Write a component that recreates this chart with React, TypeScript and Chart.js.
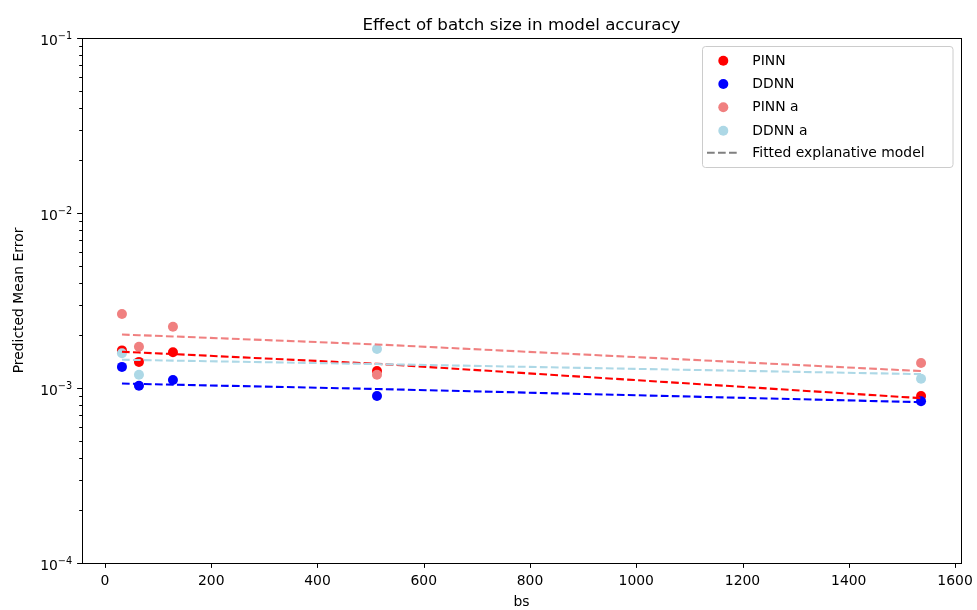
import React, { useEffect, useRef } from "react";
import { Chart, registerables } from "chart.js";

Chart.register(...registerables);

// ---- data ----
const batchSizes = [32, 64, 128, 512, 1536];
const pinnError = [1.64e-3, 1.41e-3, 1.6e-3, 1.25e-3, 0.9e-3];
const ddnnError = [1.32e-3, 1.03e-3, 1.11e-3, 0.9e-3, 0.84e-3];
const pinnAError = [2.65e-3, 1.72e-3, 2.24e-3, 1.19e-3, 1.39e-3];
const ddnnAError: (number | null)[] = [1.58e-3, 1.19e-3, null, 1.67e-3, 1.13e-3];

const pinnFit = [1.61e-3, 1.594e-3, 1.563e-3, 1.375e-3, 0.875e-3];
const ddnnFit = [1.06e-3, 1.055e-3, 1.045e-3, 0.987e-3, 0.83e-3];
const pinnAFit = [2.02e-3, 2.004e-3, 1.971e-3, 1.774e-3, 1.25e-3];
const ddnnAFit = [1.45e-3, 1.445e-3, 1.434e-3, 1.37e-3, 1.2e-3];

const xTickValues = [0, 200, 400, 600, 800, 1000, 1200, 1400, 1600];
const yExponents = [-4, -3, -2, -1];
const xMin = -43.2;
const xMax = 1611.2;

const seriesNames = ["PINN", "DDNN", "PINN a", "DDNN a"];
const fitLabel = "Fitted explanative model";
const titleText = "Effect of batch size in model accuracy";
const xLabel = "bs";
const yLabel = "Predicted Mean Error";

const COLORS = ["#ff0000", "#0000ff", "#f08080", "#add8e6"];
const FONT = "'DejaVu Sans', sans-serif";
const FS = 13.9;
const PR = 5;

const yTickValues: number[] = [];
for (let i = 0; i < yExponents.length - 1; i++) {
  for (let m = 1; m <= 9; m++) yTickValues.push(m * Math.pow(10, yExponents[i]));
}
yTickValues.push(Math.pow(10, yExponents[yExponents.length - 1]));

const isPow10 = (v: number) => {
  const l = Math.log10(v);
  return Math.abs(l - Math.round(l)) < 1e-6;
};

const toPoints = (arr: (number | null)[]) =>
  batchSizes
    .map((x, i) => ({ x, y: arr[i] }))
    .filter((p) => p.y !== null) as { x: number; y: number }[];

const decorPlugin = {
  id: "decor",
  afterDraw(chart: any) {
    const ctx = chart.ctx as CanvasRenderingContext2D;
    const { left, right, top, bottom } = chart.chartArea;
    const xs = chart.scales.x;
    const ys = chart.scales.y;
    ctx.save();
    // frame
    ctx.strokeStyle = "#000";
    ctx.lineWidth = 1;
    ctx.strokeRect(Math.round(left) + 0.5, Math.round(top) + 0.5, Math.round(right - left), Math.round(bottom - top));

    // x ticks
    ctx.beginPath();
    for (const t of xs.ticks) {
      const px = Math.round(xs.getPixelForValue(t.value)) + 0.5;
      ctx.moveTo(px, bottom);
      ctx.lineTo(px, bottom + 4.9);
    }
    // y ticks
    for (const t of ys.ticks) {
      const py = Math.round(ys.getPixelForValue(t.value)) + 0.5;
      const len = isPow10(t.value) ? 4.9 : 2.8;
      ctx.moveTo(left, py);
      ctx.lineTo(left - len, py);
    }
    ctx.stroke();

    // y labels 10^k
    ctx.fillStyle = "#000";
    ctx.textBaseline = "alphabetic";
    for (const e of yExponents) {
      const py = ys.getPixelForValue(Math.pow(10, e));
      const base = "10";
      const sup = "\u2212" + Math.abs(e);
      ctx.font = `${FS}px ${FONT}`;
      const wb = ctx.measureText(base).width;
      ctx.font = `${FS * 0.7}px ${FONT}`;
      const ws = ctx.measureText(sup).width;
      const xr = left - 4.9 - 4.9;
      const x0 = xr - ws - wb;
      ctx.font = `${FS}px ${FONT}`;
      ctx.textAlign = "left";
      ctx.fillText(base, x0, py + 6.5);
      ctx.font = `${FS * 0.7}px ${FONT}`;
      ctx.fillText(sup, x0 + wb, py + 0.5);
    }

    // title
    ctx.font = `${16.7}px ${FONT}`;
    ctx.textAlign = "center";
    ctx.textBaseline = "alphabetic";
    ctx.fillText(titleText, (left + right) / 2, 29.5);

    // x label
    ctx.font = `${FS}px ${FONT}`;
    ctx.fillText(xLabel, (left + right) / 2, 606);

    // y label
    ctx.save();
    ctx.translate(19, (top + bottom) / 2);
    ctx.rotate(-Math.PI / 2);
    ctx.textBaseline = "middle";
    ctx.fillText(yLabel, 0, 0);
    ctx.restore();

    // legend
    const lx = 702.5, ly = 46.5, lw = 250.5, lh = 121;
    ctx.beginPath();
    const r = 3;
    ctx.moveTo(lx + r, ly);
    ctx.lineTo(lx + lw - r, ly);
    ctx.arcTo(lx + lw, ly, lx + lw, ly + r, r);
    ctx.lineTo(lx + lw, ly + lh - r);
    ctx.arcTo(lx + lw, ly + lh, lx + lw - r, ly + lh, r);
    ctx.lineTo(lx + r, ly + lh);
    ctx.arcTo(lx, ly + lh, lx, ly + lh - r, r);
    ctx.lineTo(lx, ly + r);
    ctx.arcTo(lx, ly, lx + r, ly, r);
    ctx.closePath();
    ctx.fillStyle = "rgba(255,255,255,0.8)";
    ctx.fill();
    ctx.strokeStyle = "#cccccc";
    ctx.lineWidth = 1;
    ctx.stroke();

    const rowY = [60.7, 84, 107.3, 130.7, 152.7];
    ctx.font = `${FS}px ${FONT}`;
    ctx.textAlign = "left";
    ctx.textBaseline = "middle";
    for (let i = 0; i < seriesNames.length; i++) {
      ctx.beginPath();
      ctx.arc(723.3, rowY[i], PR, 0, Math.PI * 2);
      ctx.fillStyle = COLORS[i];
      ctx.fill();
      ctx.fillStyle = "#000";
      ctx.fillText(seriesNames[i], 752.3, rowY[i] + 0.5);
    }
    ctx.beginPath();
    ctx.setLineDash([7.7, 3.3]);
    ctx.strokeStyle = "#808080";
    ctx.lineWidth = 2.08;
    ctx.moveTo(707, rowY[4]);
    ctx.lineTo(740, rowY[4]);
    ctx.stroke();
    ctx.setLineDash([]);
    ctx.fillStyle = "#000";
    ctx.fillText(fitLabel, 752.3, rowY[4] + 0.5);

    ctx.restore();
  },
};

export default function App() {
  const ref = useRef<HTMLCanvasElement>(null);
  useEffect(() => {
    if (!ref.current) return;
    const scatterSets = [pinnError, ddnnError, pinnAError, ddnnAError].map((arr, i) => ({
      type: "scatter" as const,
      label: seriesNames[i],
      data: toPoints(arr),
      backgroundColor: COLORS[i],
      borderColor: COLORS[i],
      borderWidth: 0,
      pointRadius: PR,
      pointHoverRadius: PR,
      showLine: false,
      order: 10 - i,
    }));
    const fitSets = [pinnFit, ddnnFit, pinnAFit, ddnnAFit].map((arr, i) => ({
      type: "scatter" as const,
      label: fitLabel,
      data: toPoints(arr),
      borderColor: COLORS[i],
      backgroundColor: COLORS[i],
      borderWidth: 2.08,
      borderDash: [7.7, 3.3],
      pointRadius: 0,
      showLine: true,
      fill: false,
      tension: 0,
      order: 4 - i,
    }));
    const chart = new Chart(ref.current, {
      type: "scatter",
      data: { datasets: [...scatterSets, ...fitSets] as any },
      options: {
        responsive: false,
        animation: false,
        devicePixelRatio: 1,
        layout: { padding: { left: 0, right: 16, top: 38, bottom: 0 } },
        plugins: {
          legend: { display: false },
          title: { display: false },
          tooltip: { enabled: false },
        },
        scales: {
          x: {
            type: "linear",
            min: xMin,
            max: xMax,
            afterBuildTicks: (s: any) => {
              s.ticks = xTickValues.map((v) => ({ value: v }));
            },
            afterFit: (s: any) => {
              s.height = 47;
              s.paddingLeft = 0;
              s.paddingRight = 0;
            },
            grid: { display: false, drawTicks: false },
            border: { display: false },
            ticks: {
              autoSkip: false,
              maxRotation: 0,
              padding: 10,
              color: "#000",
              font: { family: FONT, size: FS },
              callback: (v: any) => String(v),
            },
          },
          y: {
            type: "logarithmic",
            min: 1e-4,
            max: 1e-1,
            afterBuildTicks: (s: any) => {
              s.ticks = yTickValues.map((v) => ({ value: v, major: isPow10(v) }));
            },
            afterFit: (s: any) => {
              s.width = 82;
              s.paddingTop = 0;
              s.paddingBottom = 0;
            },
            grid: { display: false, drawTicks: false },
            border: { display: false },
            ticks: { display: false, autoSkip: false },
          },
        },
      },
      plugins: [decorPlugin],
    });
    return () => chart.destroy();
  }, []);
  return (
    <div style={{ position: "absolute", left: 0, top: 0, width: 977, height: 610, background: "#fff" }}>
      <canvas ref={ref} width={977} height={610} style={{ display: "block", width: 977, height: 610 }} />
    </div>
  );
}
